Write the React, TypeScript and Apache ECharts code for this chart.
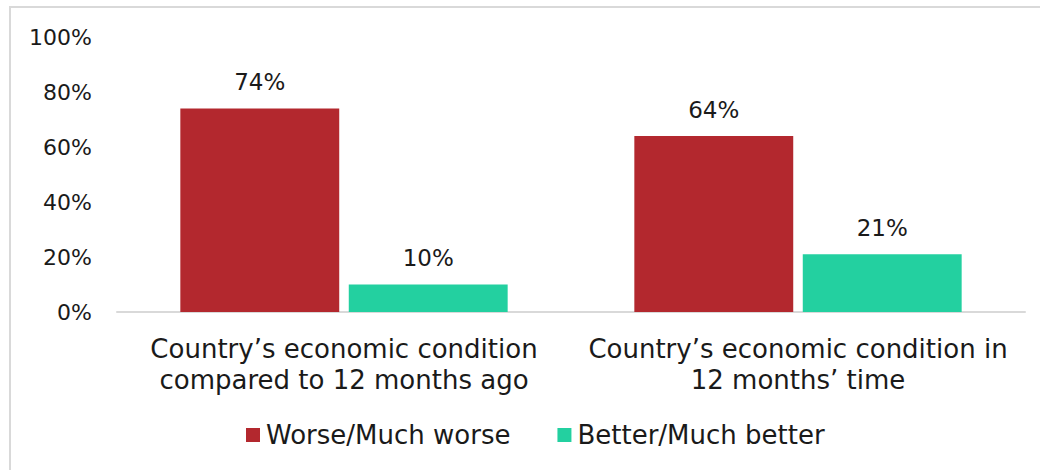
import React, { useEffect, useRef } from "react";
import * as echarts from "echarts";

const categories = [
  "Country’s economic condition\ncompared to 12 months ago",
  "Country’s economic condition in\n12 months’ time",
];
const worse = [74, 64];
const better = [10, 21];
const seriesNames = ["Worse/Much worse", "Better/Much better"];
const yTicks = { min: 0, max: 100, interval: 20 };

const FONT = "DejaVu Sans";
const TXT = "#1a1a1a";

export default function App() {
  const ref = useRef<HTMLDivElement>(null);
  useEffect(() => {
    const chart = echarts.init(ref.current!, null, { renderer: "svg" });
    chart.setOption({
      animation: false,
      backgroundColor: "#ffffff",
      textStyle: { fontFamily: FONT, color: TXT },
      graphic: [
        {
          type: "rect",
          shape: { x: 10, y: 7, width: 1100, height: 520 },
          style: { fill: "none", stroke: "#d9d9d9", lineWidth: 2 },
          silent: true,
        },
      ],
      grid: { left: 117, right: 15, top: 37, bottom: 158 },
      legend: {
        top: 422,
        left: 246,
        padding: 0,
        itemWidth: 14,
        itemHeight: 14,
        itemGap: 47,
        icon: "rect",
        textStyle: { fontFamily: FONT, fontSize: 26, color: TXT, padding: [0, 0, 0, 1] },
        data: seriesNames,
      },
      xAxis: {
        type: "category",
        data: categories,
        axisLine: { lineStyle: { color: "#d9d9d9", width: 2 } },
        axisTick: { show: false },
        axisLabel: {
          fontFamily: FONT,
          fontSize: 26,
          color: TXT,
          lineHeight: 31,
          margin: 21,
          interval: 0,
        },
      },
      yAxis: {
        type: "value",
        min: yTicks.min,
        max: yTicks.max,
        interval: yTicks.interval,
        splitLine: { show: false },
        axisLine: { show: false },
        axisTick: { show: false },
        axisLabel: {
          formatter: "{value}%",
          fontFamily: FONT,
          fontSize: 22,
          color: TXT,
          margin: 25,
        },
      },
      series: [
        {
          name: seriesNames[0],
          type: "bar",
          data: worse,
          barWidth: "35%",
          barGap: "6%",
          itemStyle: { color: "#b3282e" },
          label: {
            show: true,
            position: "top",
            distance: 15,
            formatter: "{c}%",
            fontFamily: FONT,
            fontSize: 23,
            color: TXT,
          },
        },
        {
          name: seriesNames[1],
          type: "bar",
          data: better,
          barWidth: "35%",
          itemStyle: { color: "#23d0a0" },
          label: {
            show: true,
            position: "top",
            distance: 15,
            formatter: "{c}%",
            fontFamily: FONT,
            fontSize: 23,
            color: TXT,
          },
        },
      ],
    });
    return () => chart.dispose();
  }, []);
  return (
    <div
      ref={ref}
      style={{ position: "fixed", left: 0, top: 0, width: 1040, height: 470 }}
    />
  );
}
